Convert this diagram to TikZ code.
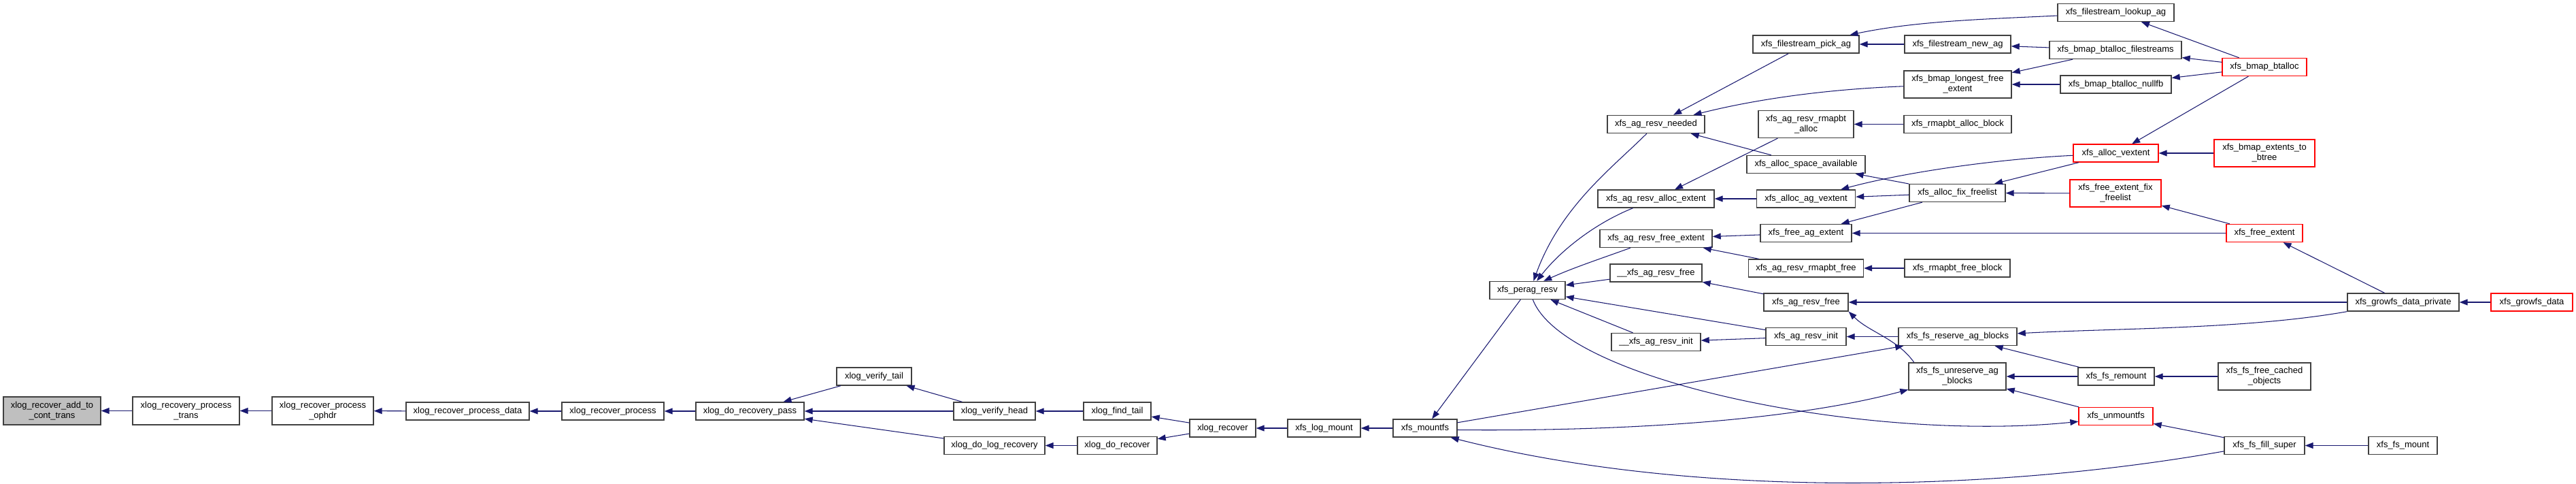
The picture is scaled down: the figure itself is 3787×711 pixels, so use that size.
\documentclass[tikz,border=0pt]{standalone}
\usepackage{fontspec}
\setmainfont{Liberation Sans}
\usepackage{xcolor}
\definecolor{cedge}{HTML}{191970}
\definecolor{cbox}{HTML}{404040}
\definecolor{croot}{HTML}{BFBFBF}
\definecolor{ctrunc}{HTML}{FF0000}
\usepackage{tikz}
\usetikzlibrary{arrows.meta}

\begin{document}
\begin{tikzpicture}[x=1pt, y=-1pt,
  fn/.style={draw=cbox, line width=1.4pt, fill=white, inner sep=0pt, align=center, font=\fontsize{13}{15}\selectfont},
  fnred/.style={fn, draw=ctrunc},
  fnroot/.style={fn, fill=croot},
  call/.style={cedge, line width=1.05pt, -{Triangle[length=12pt,width=9pt]}}]
  \useasboundingbox (0,0) rectangle (3787,711);

  % xlog side
  \node[fnroot, minimum width=143, minimum height=41] (addcont) at (76.5,603.5) {xlog\_recover\_add\_to\\\_cont\_trans};
  \node[fn, minimum width=157, minimum height=41] (proctrans) at (273.5,603.5) {xlog\_recovery\_process\\\_trans};
  \node[fn, minimum width=149, minimum height=41] (ophdr) at (474.5,603.5) {xlog\_recover\_process\\\_ophdr};
  \node[fn, minimum width=181, minimum height=26] (procdata) at (687.5,604) {xlog\_recover\_process\_data};
  \node[fn, minimum width=150, minimum height=26] (recproc) at (901,604) {xlog\_recover\_process};
  \node[fn, minimum width=159, minimum height=26] (dopass) at (1102.5,604) {xlog\_do\_recovery\_pass};
  \node[fn, minimum width=110, minimum height=26] (vtail) at (1285,553) {xlog\_verify\_tail};
  \node[fn, minimum width=120, minimum height=26] (vhead) at (1462,604) {xlog\_verify\_head};
  \node[fn, minimum width=148, minimum height=26] (dologrec) at (1462,654.5) {xlog\_do\_log\_recovery};
  \node[fn, minimum width=99, minimum height=26] (findtail) at (1642.5,604) {xlog\_find\_tail};
  \node[fn, minimum width=117, minimum height=26] (dorecover) at (1642.5,654.5) {xlog\_do\_recover};
  \node[fn, minimum width=97, minimum height=26] (recover) at (1797.5,629) {xlog\_recover};
  \node[fn, minimum width=107, minimum height=26] (logmount) at (1946.5,629) {xfs\_log\_mount};
  \node[fn, minimum width=94, minimum height=26] (mountfs) at (2095,629) {xfs\_mountfs};

  % ag_resv column
  \node[fn, minimum width=111, minimum height=26] (peragresv) at (2245.5,426.5) {xfs\_perag\_resv};
  \node[fn, minimum width=143, minimum height=26] (resvneeded) at (2434.5,182.5) {xfs\_ag\_resv\_needed};
  \node[fn, minimum width=171, minimum height=26] (allocext) at (2434.5,292) {xfs\_ag\_resv\_alloc\_extent};
  \node[fn, minimum width=165, minimum height=26] (freeext) at (2434.5,350.5) {xfs\_ag\_resv\_free\_extent};
  \node[fn, minimum width=135, minimum height=26] (uufree) at (2434.5,401) {\_\_xfs\_ag\_resv\_free};
  \node[fn, minimum width=131, minimum height=26] (uuinit) at (2434.5,502.5) {\_\_xfs\_ag\_resv\_init};

  \node[fn, minimum width=156, minimum height=26] (pickag) at (2655,65) {xfs\_filestream\_pick\_ag};
  \node[fn, minimum width=140, minimum height=40] (rmapalloc) at (2655,182.5) {xfs\_ag\_resv\_rmapbt\\\_alloc};
  \node[fn, minimum width=174, minimum height=26] (spaceavail) at (2655,241.5) {xfs\_alloc\_space\_available};
  \node[fn, minimum width=145, minimum height=26] (agvextent) at (2655,292) {xfs\_alloc\_ag\_vextent};
  \node[fn, minimum width=134, minimum height=26] (freeagext) at (2655,342.5) {xfs\_free\_ag\_extent};
  \node[fn, minimum width=169, minimum height=26] (rmapfree) at (2655,394) {xfs\_ag\_resv\_rmapbt\_free};
  \node[fn, minimum width=124, minimum height=26] (resvfree) at (2655,444) {xfs\_ag\_resv\_free};
  \node[fn, minimum width=118, minimum height=26] (resvinit) at (2655,494.5) {xfs\_ag\_resv\_init};

  \node[fn, minimum width=156, minimum height=26] (newag) at (2878,65) {xfs\_filestream\_new\_ag};
  \node[fn, minimum width=158, minimum height=40] (longest) at (2878,124) {xfs\_bmap\_longest\_free\\\_extent};
  \node[fn, minimum width=158, minimum height=26] (rmapallocblk) at (2878,182.5) {xfs\_rmapbt\_alloc\_block};
  \node[fn, minimum width=141, minimum height=26] (fixfree) at (2877.5,283.5) {xfs\_alloc\_fix\_freelist};
  \node[fn, minimum width=155, minimum height=26] (rmapfreeblk) at (2877.5,394) {xfs\_rmapbt\_free\_block};
  \node[fn, minimum width=174, minimum height=26] (reserveblk) at (2878,494.5) {xfs\_fs\_reserve\_ag\_blocks};
  \node[fn, minimum width=143, minimum height=40] (unreserveblk) at (2877.5,553) {xfs\_fs\_unreserve\_ag\\\_blocks};

  \node[fn, minimum width=171, minimum height=26] (lookupag) at (3110.5,18.5) {xfs\_filestream\_lookup\_ag};
  \node[fn, minimum width=194, minimum height=26] (btfilestreams) at (3110,73.5) {xfs\_bmap\_btalloc\_filestreams};
  \node[fn, minimum width=163, minimum height=26] (btnullfb) at (3110.5,124) {xfs\_bmap\_btalloc\_nullfb};
  \node[fnred, minimum width=125, minimum height=26] (allocvextent) at (3110.5,225) {xfs\_alloc\_vextent};
  \node[fnred, minimum width=134, minimum height=40] (freefixfree) at (3110,284) {xfs\_free\_extent\_fix\\\_freelist};
  \node[fn, minimum width=112, minimum height=26] (remount) at (3111,553) {xfs\_fs\_remount};
  \node[fnred, minimum width=109, minimum height=26] (unmountfs) at (3110.5,611.5) {xfs\_unmountfs};

  \node[fnred, minimum width=124, minimum height=26] (btalloc) at (3329,98.5) {xfs\_bmap\_btalloc};
  \node[fnred, minimum width=148, minimum height=40] (extbtree) at (3329,225) {xfs\_bmap\_extents\_to\\\_btree};
  \node[fnred, minimum width=112, minimum height=26] (freeextent) at (3329,342.5) {xfs\_free\_extent};
  \node[fn, minimum width=136, minimum height=40] (freecached) at (3329,553) {xfs\_fs\_free\_cached\\\_objects};
  \node[fn, minimum width=118, minimum height=26] (fillsuper) at (3329,654.5) {xfs\_fs\_fill\_super};

  \node[fn, minimum width=164, minimum height=26] (growpriv) at (3533,444) {xfs\_growfs\_data\_private};
  \node[fn, minimum width=101, minimum height=26] (fsmount) at (3532.5,654.5) {xfs\_fs\_mount};
  \node[fnred, minimum width=120, minimum height=26] (growfs) at (3722,444) {xfs\_growfs\_data};

  % calls
  \draw[call] (proctrans) -- (addcont);
  \draw[call] (ophdr) -- (proctrans);
  \draw[call] (procdata) -- (ophdr);
  \draw[call] (recproc) -- (procdata);
  \draw[call] (dopass) -- (recproc);
  \draw[call] (vtail) -- (dopass);
  \draw[call] (vhead) -- (dopass);
  \draw[call] (dologrec) -- (dopass);
  \draw[call] (vhead) -- (vtail);
  \draw[call] (findtail) -- (vhead);
  \draw[call] (dorecover) -- (dologrec);
  \draw[call] (recover) -- (findtail);
  \draw[call] (recover) -- (dorecover);
  \draw[call] (logmount) -- (recover);
  \draw[call] (mountfs) -- (logmount);
  \draw[call] (peragresv) -- (mountfs);
  \draw[call] (mountfs) -- (reserveblk);
  \draw[call] (mountfs.-3) .. controls +(198,2) and +(-191,51) .. (unreserveblk.195);
  \draw[call] (fillsuper.188) .. controls +(-350,62) and +(346,88) .. (mountfs.-20);
  \draw[call] (peragresv.-60) .. controls +(47,121) and +(-306,31) .. (unmountfs.188);

  \draw[call] (resvneeded.225) .. controls +(-50,50) and +(40,-110) .. (peragresv.57);
  \draw[call] (allocext.202) .. controls +(-55,22) and +(35,-45) .. (peragresv.45);
  \draw[call] (freeext.200) .. controls +(-50,18) and +(45,-20) .. (peragresv.30);
  \draw[call] (uufree) -- (peragresv);
  \draw[call] (resvinit) -- (peragresv);
  \draw[call] (uuinit) -- (peragresv);

  \draw[call] (pickag) -- (resvneeded);
  \draw[call] (longest.182) .. controls +(-105,4) and +(100,-25) .. (resvneeded.14);
  \draw[call] (spaceavail) -- (resvneeded);
  \draw[call] (rmapalloc) -- (allocext);
  \draw[call] (agvextent) -- (allocext);
  \draw[call] (freeagext) -- (freeext);
  \draw[call] (rmapfree) -- (freeext);
  \draw[call] (resvfree) -- (uufree);
  \draw[call] (resvinit) -- (uuinit);

  \draw[call] (newag) -- (pickag);
  \draw[call] (lookupag.183) .. controls +(-100,5) and +(100,-21) .. (pickag.12);
  \draw[call] (btfilestreams) -- (newag);
  \draw[call] (btfilestreams) -- (longest);
  \draw[call] (btnullfb) -- (longest);
  \draw[call] (rmapallocblk) -- (rmapalloc);
  \draw[call] (fixfree) -- (spaceavail);
  \draw[call] (fixfree) -- (agvextent);
  \draw[call] (allocvextent.183) .. controls +(-105,5) and +(101,-27) .. (agvextent.15);
  \draw[call] (fixfree) -- (freeagext);
  \draw[call] (freeextent) -- (freeagext);
  \draw[call] (rmapfreeblk) -- (rmapfree);
  \draw[call] (growpriv) -- (resvfree);
  \draw[call] (unreserveblk.162) .. controls +(-25,-35) and +(30,30) .. (resvfree.south east);
  \draw[call] (reserveblk) -- (resvinit);

  \draw[call] (allocvextent) -- (fixfree);
  \draw[call] (freefixfree) -- (fixfree);
  \draw[call] (growpriv.south west) .. controls +(-148,26) and +(150,-8) .. (reserveblk.3);
  \draw[call] (remount) -- (reserveblk);
  \draw[call] (remount) -- (unreserveblk);
  \draw[call] (unmountfs) -- (unreserveblk);

  \draw[call] (btalloc) -- (lookupag);
  \draw[call] (btalloc) -- (btfilestreams);
  \draw[call] (btalloc) -- (btnullfb);
  \draw[call] (btalloc) -- (allocvextent);
  \draw[call] (extbtree) -- (allocvextent);
  \draw[call] (freeextent) -- (freefixfree);
  \draw[call] (freecached) -- (remount);
  \draw[call] (fillsuper) -- (unmountfs);

  \draw[call] (growpriv) -- (freeextent);
  \draw[call] (fsmount) -- (fillsuper);
  \draw[call] (growfs) -- (growpriv);
\end{tikzpicture}
\end{document}
